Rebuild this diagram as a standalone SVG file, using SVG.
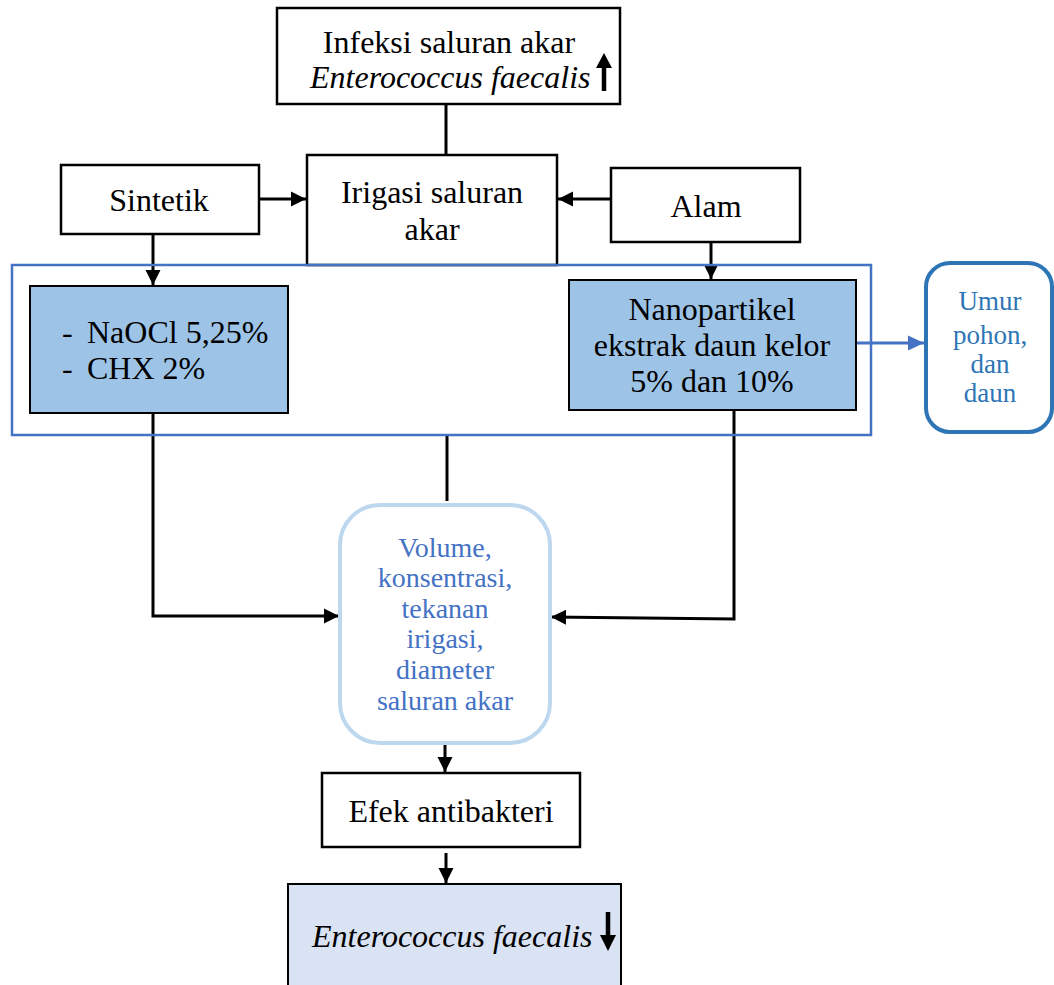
<svg xmlns="http://www.w3.org/2000/svg" width="1054" height="985" viewBox="0 0 1054 985">
<style>
.t{font-family:"Liberation Serif","Times New Roman",serif;font-size:32px;fill:#000}
.tb{font-family:"Liberation Serif","Times New Roman",serif;font-size:28px;fill:#4472C4}
.tu{font-family:"Liberation Serif","Times New Roman",serif;font-size:27px;fill:#2E75B6}
.box{fill:#fff;stroke:#000;stroke-width:2.5}
.fill{fill:#9DC3E6;stroke:#000;stroke-width:2}
.c{fill:none;stroke:#000;stroke-width:3}
</style>
<defs>
<marker id="ah" markerUnits="userSpaceOnUse" markerWidth="16" markerHeight="16" refX="15" refY="8" orient="auto">
<path d="M0,0.5 L15,8 L0,15.5 Z" fill="#000"/>
</marker>
<marker id="ahb" markerUnits="userSpaceOnUse" markerWidth="17" markerHeight="17" refX="16" refY="8.5" orient="auto">
<path d="M0,1 L16,8.5 L0,16 Z" fill="#4472C4"/>
</marker>
</defs>
<rect width="1054" height="985" fill="#fff"/>

<g id="connectors">
<line class="c" x1="446" y1="104" x2="446" y2="156"/>
<line class="c" x1="259" y1="199" x2="306" y2="199" marker-end="url(#ah)"/>
<line class="c" x1="611" y1="199" x2="558" y2="199" marker-end="url(#ah)"/>
<line class="c" x1="153" y1="234" x2="153" y2="285" marker-end="url(#ah)"/>
<line class="c" x1="711" y1="242" x2="711" y2="279" marker-end="url(#ah)"/>
<polyline class="c" points="153,413 153,616 339,616" marker-end="url(#ah)"/>
<polyline class="c" points="734,410 734,619 551,617" marker-end="url(#ah)"/>
<line class="c" x1="447" y1="435" x2="447" y2="501"/>
<line class="c" x1="445" y1="743" x2="445" y2="772" marker-end="url(#ah)"/>
<line class="c" x1="446" y1="853" x2="446" y2="883" marker-end="url(#ah)"/>
<line x1="857" y1="343" x2="924" y2="343" stroke="#4472C4" stroke-width="3" marker-end="url(#ahb)"/>
</g>

<g id="n-infeksi">
<rect class="box" x="277" y="8" width="343" height="96"/>
<text class="t" x="449" y="53" text-anchor="middle">Infeksi saluran akar</text>
<text class="t" x="310" y="88" font-style="italic">Enterococcus faecalis</text>
<line x1="604" y1="91" x2="604" y2="64" stroke="#000" stroke-width="4.5"/>
<path d="M596,68 L612,68 L604,53 Z" fill="#000"/>
</g>

<g id="n-irigasi">
<rect class="box" x="307" y="155" width="250" height="110"/>
<text class="t" x="432" y="203" text-anchor="middle">Irigasi saluran</text>
<text class="t" x="432" y="240" text-anchor="middle">akar</text>
</g>

<g id="n-sintetik">
<rect class="box" x="61" y="165" width="198" height="69"/>
<text class="t" x="159" y="211" text-anchor="middle">Sintetik</text>
</g>

<g id="n-alam">
<rect class="box" x="611" y="168" width="189" height="74"/>
<text class="t" x="706" y="217" text-anchor="middle">Alam</text>
</g>

<g id="n-group">
<rect x="12" y="265" width="859" height="170" fill="none" stroke="#4472C4" stroke-width="2.5"/>
</g>

<g id="n-sintetik-list">
<rect class="fill" x="30" y="286" width="258" height="127"/>
<text class="t" x="62" y="343">-</text>
<text class="t" x="87" y="343">NaOCl 5,25%</text>
<text class="t" x="62" y="379">-</text>
<text class="t" x="87" y="379">CHX 2%</text>
</g>

<g id="n-nano">
<rect class="fill" x="569" y="280" width="287" height="130"/>
<text class="t" x="712" y="320" text-anchor="middle">Nanopartikel</text>
<text class="t" x="712" y="356" text-anchor="middle">ekstrak daun kelor</text>
<text class="t" x="712" y="392" text-anchor="middle">5% dan 10%</text>
</g>

<g id="n-umur">
<rect x="926" y="263" width="126" height="169" rx="24" ry="24" fill="#fff" stroke="#2E75B6" stroke-width="4"/>
<text class="tu" x="990" y="310" text-anchor="middle">Umur</text>
<text class="tu" x="990" y="344" text-anchor="middle">pohon,</text>
<text class="tu" x="990" y="373" text-anchor="middle">dan</text>
<text class="tu" x="990" y="402" text-anchor="middle">daun</text>
</g>

<g id="n-volume">
<rect x="340" y="505" width="210" height="238" rx="40" ry="40" fill="#fff" stroke="#BDD7EE" stroke-width="4"/>
<text class="tb" x="445" y="557" text-anchor="middle">Volume,</text>
<text class="tb" x="445" y="587" text-anchor="middle">konsentrasi,</text>
<text class="tb" x="445" y="618" text-anchor="middle">tekanan</text>
<text class="tb" x="445" y="648" text-anchor="middle">irigasi,</text>
<text class="tb" x="445" y="679" text-anchor="middle">diameter</text>
<text class="tb" x="445" y="710" text-anchor="middle">saluran akar</text>
</g>

<g id="n-efek">
<rect class="box" x="322" y="773" width="258" height="74"/>
<text class="t" x="451" y="822" text-anchor="middle">Efek antibakteri</text>
</g>

<g id="n-result">
<rect x="288" y="884" width="333" height="110" fill="#DAE3F3" stroke="#000" stroke-width="2"/>
<text class="t" x="312" y="947" font-style="italic">Enterococcus faecalis</text>
<line x1="608" y1="912" x2="608" y2="938" stroke="#000" stroke-width="4.5"/>
<path d="M600,935 L616,935 L608,951 Z" fill="#000"/>
</g>
</svg>
